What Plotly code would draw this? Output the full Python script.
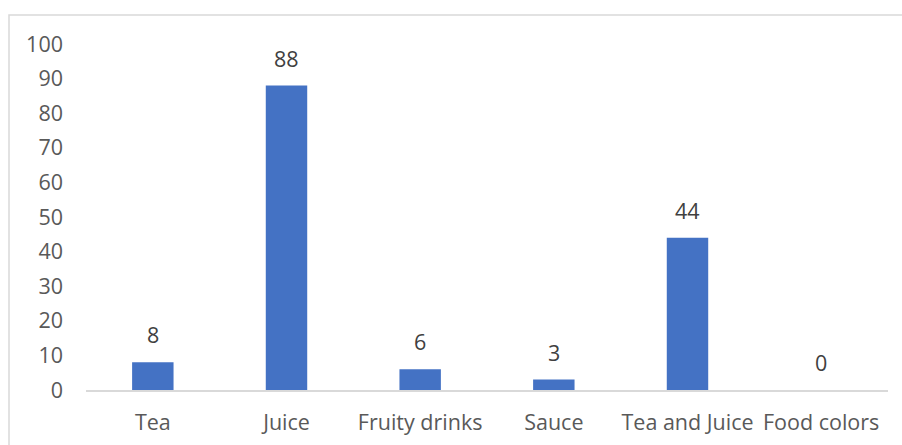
import plotly.graph_objects as go

categories = ["Tea", "Juice", "Fruity drinks", "Sauce", "Tea and Juice", "Food colors"]
values = [8, 88, 6, 3, 44, 0]
y_ticks = [0, 10, 20, 30, 40, 50, 60, 70, 80, 90, 100]

FONT = "Open Sans"
FS = 21.5

fig = go.Figure(go.Bar(
    x=categories,
    y=values,
    marker=dict(color="#4472C4", line=dict(width=0)),
    width=0.31,
    cliponaxis=False,
))

annotations = [
    dict(x=c, y=v, xref="x", yref="y", text=str(v), showarrow=False,
         yanchor="bottom", xanchor="center", yshift=11,
         font=dict(family=FONT, size=FS, color="#404040"))
    for c, v in zip(categories, values)
]

fig.update_layout(
    width=902, height=445,
    margin=dict(l=86, r=14, t=44, b=55),
    paper_bgcolor="white", plot_bgcolor="white",
    showlegend=False,
    font=dict(family=FONT, size=FS, color="#595959"),
    xaxis=dict(
        showgrid=False, showline=True, linecolor="#D9D9D9", linewidth=1.5,
        ticks="", ticklabelstandoff=12, automargin=False,
        tickfont=dict(family=FONT, size=FS, color="#595959"),
    ),
    yaxis=dict(
        range=[0, 100], tickvals=y_ticks, showgrid=False, zeroline=False,
        showline=False, ticks="", ticklabelstandoff=22, automargin=False,
        tickfont=dict(family=FONT, size=FS, color="#595959"),
    ),
    annotations=annotations,
    shapes=[dict(
        type="rect", xref="paper", yref="paper",
        x0=(9 - 86) / 802, x1=1.06, y0=-0.2, y1=(390 - 15) / 346,
        line=dict(color="#D9D9D9", width=1.5), fillcolor="rgba(0,0,0,0)",
        layer="below",
    )],
)

fig.write_html("out.html")
